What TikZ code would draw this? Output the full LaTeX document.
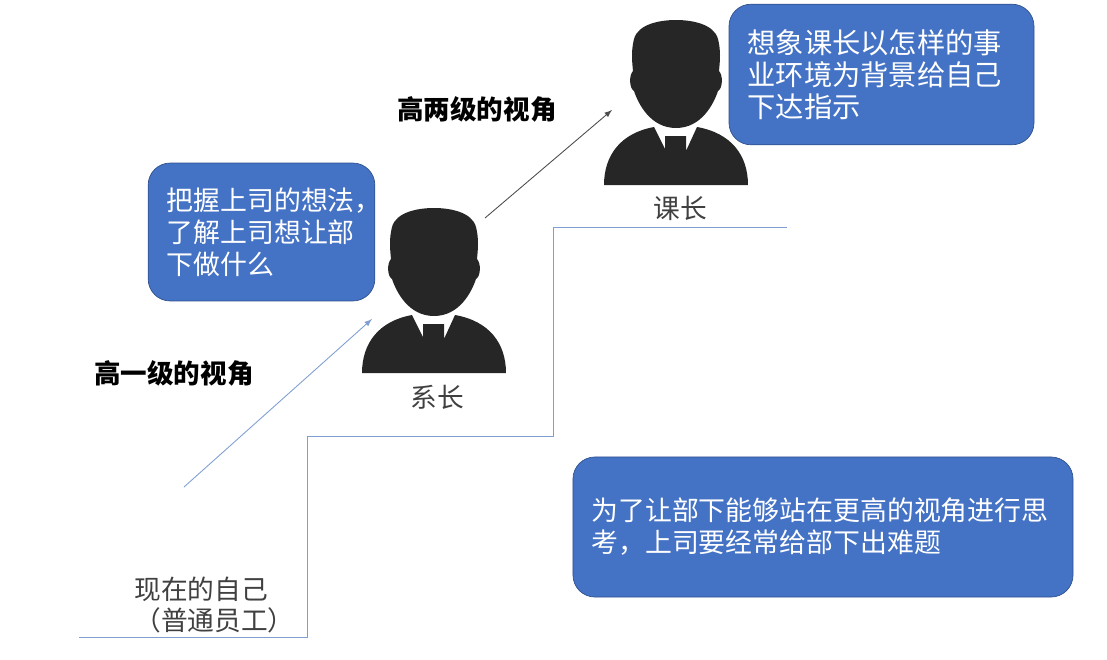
\documentclass[tikz,border=0pt]{standalone}
\usepackage{fontspec}
\setmainfont{Noto Sans CJK SC}
\usetikzlibrary{arrows.meta}
\definecolor{boxblue}{HTML}{4472C4}
\definecolor{boxedge}{HTML}{2F528F}
\definecolor{stairblue}{HTML}{7F9FD3}
\definecolor{iconblack}{HTML}{262626}
\tikzset{
  bluebox/.style={draw=boxedge,fill=boxblue,text=white,rounded corners=12.5pt,align=left,inner xsep=10.5pt,inner ysep=0pt,font=\fontsize{15.3}{18.2}\selectfont},
  plainlabel/.style={text=black!75,align=left,inner sep=0pt,font=\fontsize{15.2}{18.2}\selectfont},
  boldlabel/.style={inner sep=0pt,font=\fontsize{15.1}{18.2}\selectfont\bfseries},
  person/.pic={
    \fill[iconblack] (0,-165) .. controls (-16,-165) and (-38,-161) .. (-42,-146)
      .. controls (-45,-134) and (-44,-124) .. (-43,-114)
      .. controls (-47,-110) and (-47,-97) .. (-42,-94)
      .. controls (-38,-82) and (-26,-57) .. (0,-57)
      .. controls (26,-57) and (38,-82) .. (42,-94)
      .. controls (47,-97) and (47,-110) .. (43,-114)
      .. controls (44,-124) and (45,-134) .. (42,-146)
      .. controls (38,-161) and (16,-165) .. (0,-165) -- cycle;
    \fill[iconblack] (-72,0) .. controls (-72,-30) and (-55,-52) .. (-22,-58)
      -- (-11,-36) -- (-11,-49) -- (10,-49) -- (10,-34) -- (21,-58)
      .. controls (55,-52) and (72,-30) .. (72,0) -- cycle;
  }
}
\begin{document}
\begin{tikzpicture}[x=0.02cm,y=-0.02cm]
\useasboundingbox (0,0) rectangle (1107,660);
% stairs
\coordinate (s0) at (79,637);
\coordinate (s1) at (307,637);
\coordinate (s2) at (307,436);
\coordinate (s3) at (553,436);
\coordinate (s4) at (553,227);
\coordinate (s5) at (787,227);
\draw[stairblue,line width=0.5pt] (s0) -- (s1) -- (s2) -- (s3) -- (s4) -- (s5);
% people
\pic at (434,373) {person};
\pic at (676,185) {person};
\node[plainlabel] (xizhang) at (437,397) {系长};
\node[plainlabel] (kezhang) at (680,208) {课长};
\node[plainlabel,anchor=west] (self) at (134,605) {现在的自己\\（普通员工）};
% arrows
\coordinate (a0) at (184,487);
\coordinate (a1) at (372,319);
\coordinate (b0) at (485,218);
\coordinate (b1) at (612,110);
\draw[-latex,stairblue,line width=0.5pt] (a0) -- (a1);
\draw[-latex,black!70,line width=0.5pt] (b0) -- (b1);
\node[boldlabel,anchor=west] (gao1) at (94,373) {高一级的视角};
\node[boldlabel,anchor=west] (gao2) at (397,109) {高两级的视角};
% boxes
\node[bluebox,text width=108pt,minimum height=78.5pt] (box1) at (261.5,232) {把握上司的想法，\\了解上司想让部\\下做什么};
\node[bluebox,text width=152.6pt,minimum height=80pt,font=\fontsize{16.1}{18.2}\selectfont] (box2) at (881.5,74.5) {想象课长以怎样的事\\业环境为背景给自己\\下达指示};
\node[bluebox,text width=263.6pt,minimum height=79.7pt] (box3) at (823,527) {为了让部下能够站在更高的视角进行思\\考，上司要经常给部下出难题};
\end{tikzpicture}
\end{document}
